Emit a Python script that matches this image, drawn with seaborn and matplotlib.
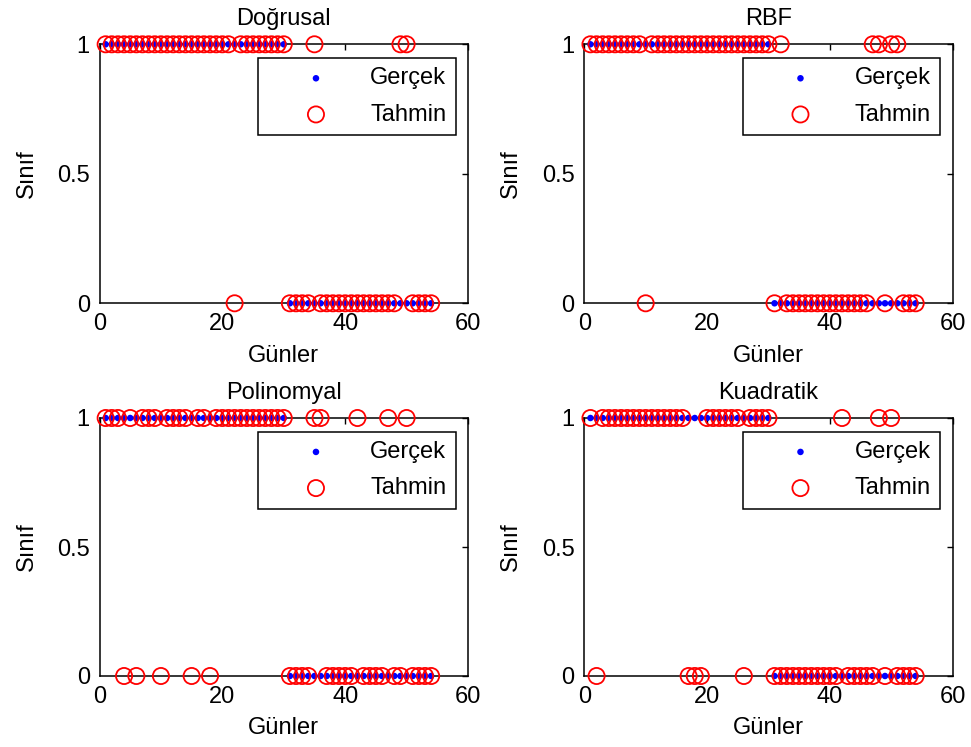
import matplotlib
matplotlib.use("Agg")
import matplotlib.pyplot as plt
import seaborn as sns

# Day index (x axis)
gunler = [1, 2, 3, 4, 5, 6, 7, 8, 9, 10,
          11, 12, 13, 14, 15, 16, 17, 18, 19, 20,
          21, 22, 23, 24, 25, 26, 27, 28, 29, 30,
          31, 32, 33, 34, 35, 36, 37, 38, 39, 40,
          41, 42, 43, 44, 45, 46, 47, 48, 49, 50,
          51, 52, 53, 54]

# Actual class for each day
gercek = [1, 1, 1, 1, 1, 1, 1, 1, 1, 1,
          1, 1, 1, 1, 1, 1, 1, 1, 1, 1,
          1, 1, 1, 1, 1, 1, 1, 1, 1, 1,
          0, 0, 0, 0, 0, 0, 0, 0, 0, 0,
          0, 0, 0, 0, 0, 0, 0, 0, 0, 0,
          0, 0, 0, 0]

# Predicted class per kernel
tahmin_dogrusal = [1, 1, 1, 1, 1, 1, 1, 1, 1, 1,
                   1, 1, 1, 1, 1, 1, 1, 1, 1, 1,
                   1, 0, 1, 1, 1, 1, 1, 1, 1, 1,
                   0, 0, 0, 0, 1, 0, 0, 0, 0, 0,
                   0, 0, 0, 0, 0, 0, 0, 0, 1, 1,
                   0, 0, 0, 0]

tahmin_rbf = [1, 1, 1, 1, 1, 1, 1, 1, 1, 0,
              1, 1, 1, 1, 1, 1, 1, 1, 1, 1,
              1, 1, 1, 1, 1, 1, 1, 1, 1, 1,
              0, 1, 0, 0, 0, 0, 0, 0, 0, 0,
              0, 0, 0, 0, 0, 0, 1, 1, 0, 1,
              1, 0, 0, 0]

tahmin_polinomyal = [1, 1, 1, 0, 1, 0, 1, 1, 1, 0,
                     1, 1, 1, 1, 0, 1, 1, 0, 1, 1,
                     1, 1, 1, 1, 1, 1, 1, 1, 1, 1,
                     0, 0, 0, 0, 1, 1, 0, 0, 0, 0,
                     0, 1, 0, 0, 0, 0, 1, 0, 0, 1,
                     0, 0, 0, 0]

tahmin_kuadratik = [1, 0, 1, 1, 1, 1, 1, 1, 1, 1,
                    1, 1, 1, 1, 1, 1, 0, 0, 0, 1,
                    1, 1, 1, 1, 1, 0, 1, 1, 1, 1,
                    0, 0, 0, 0, 0, 0, 0, 0, 0, 0,
                    0, 1, 0, 0, 0, 0, 0, 1, 0, 1,
                    0, 0, 0, 0]

basliklar = ["Doğrusal", "RBF", "Polinomyal", "Kuadratik"]
tahminler = [tahmin_dogrusal, tahmin_rbf, tahmin_polinomyal, tahmin_kuadratik]

x_ticks = [0, 20, 40, 60]
y_ticks = [0, 0.5, 1]
y_tick_labels = ["0", "0.5", "1"]

sns.set_style("white")
plt.rcParams["font.family"] = ["Liberation Sans", "DejaVu Sans"]
plt.rcParams["text.color"] = "black"
plt.rcParams["axes.labelcolor"] = "black"
FS = 17

W, H = 971, 747
fig = plt.figure(figsize=(W / 100, H / 100), dpi=100)

# axes boxes in pixels: (left, top, right, bottom)
boxes = [(99.5, 44.3, 468, 303.3),
         (584.3, 44.3, 952.5, 303.3),
         (99.5, 418, 468, 676),
         (584.3, 418, 952.5, 676)]

for (l, t, r, b), baslik, tahmin in zip(boxes, basliklar, tahminler):
    ax = fig.add_axes([l / W, 1 - b / H, (r - l) / W, (b - t) / H])
    sns.scatterplot(x=gunler, y=gercek, ax=ax, color="blue", marker="o",
                    s=22, edgecolor="none", label="Gerçek",
                    clip_on=False, zorder=3)
    sns.scatterplot(x=gunler, y=tahmin, ax=ax, color="red", marker="o",
                    s=135, facecolor="none", edgecolor="red", linewidth=1.3,
                    label="Tahmin", clip_on=False, zorder=4)
    ax.set_xlim(0, 60)
    ax.set_ylim(0, 1)
    ax.set_xticks(x_ticks)
    ax.set_yticks(y_ticks)
    ax.set_yticklabels(y_tick_labels)
    ax.tick_params(direction="in", length=4, width=1, top=True, right=True,
                   labelsize=FS, colors="black", pad=7)
    for sp in ax.spines.values():
        sp.set_color("black")
        sp.set_linewidth(1.1)
        sp.set_visible(True)
    ax.set_title(baslik, fontsize=FS, pad=14, color="black")
    ax.set_xlabel("Günler", fontsize=FS, labelpad=7)
    ax.set_ylabel("Sınıf", fontsize=FS, labelpad=14)
    leg = ax.legend(loc="upper right", bbox_to_anchor=(0.967, 0.947),
                    fontsize=FS, scatterpoints=1, fancybox=False,
                    frameon=True, edgecolor="black", framealpha=1,
                    borderpad=0.4, handlelength=4.1, handletextpad=0.25,
                    labelspacing=0.6, borderaxespad=0)
    leg.get_frame().set_linewidth(1.1)
    for txt in leg.get_texts():
        txt.set_color("black")

fig.savefig("out.png", dpi=100)
